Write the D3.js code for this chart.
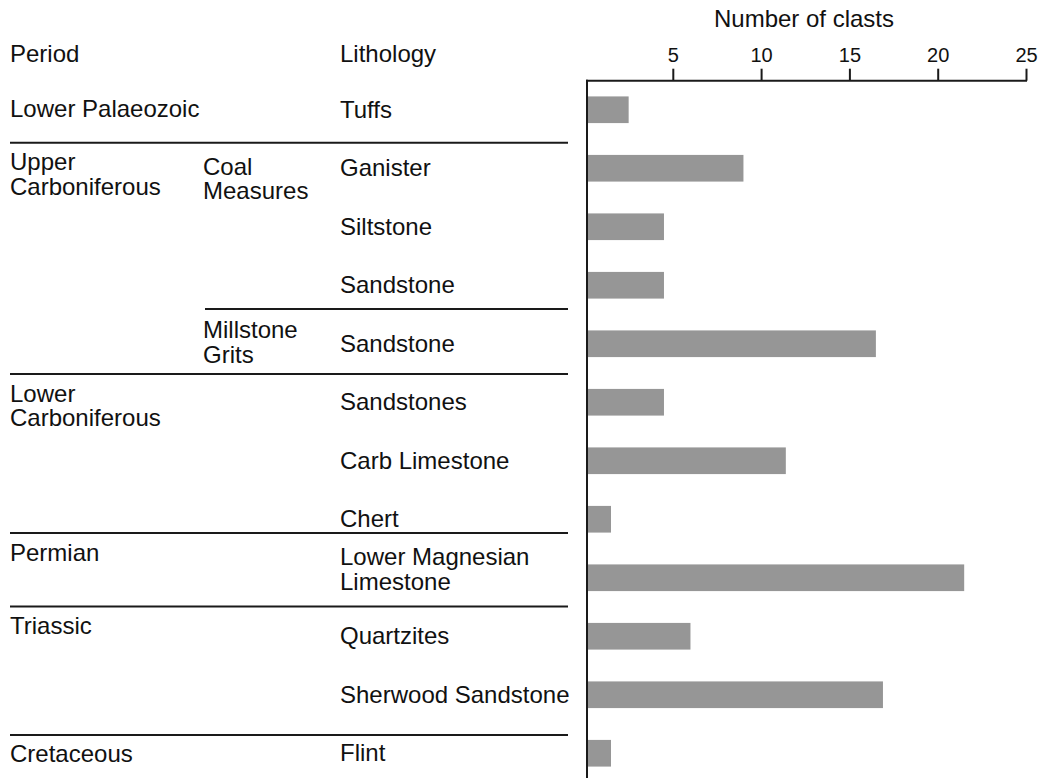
<!DOCTYPE html>
<html>
<head>
<meta charset="utf-8">
<script src="https://cdn.jsdelivr.net/npm/d3@7/dist/d3.min.js"></script>
<style>
  html, body { margin: 0; padding: 0; background: #fff; }
  svg text { font-family: "Liberation Sans", Arial, Helvetica, sans-serif; fill: #111; }
</style>
</head>
<body>
<svg id="chart" width="1040" height="778"></svg>
<script>
// ---- data ----
const lithology = ["Tuffs", "Ganister", "Siltstone", "Sandstone", "Sandstone", "Sandstones",
  "Carb Limestone", "Chert", "Lower Magnesian|Limestone", "Quartzites", "Sherwood Sandstone", "Flint"];
const clasts = [2.5, 9, 4.5, 4.5, 16.5, 4.5, 11.4, 1.5, 21.5, 6, 16.9, 1.5];
const periodLabels = ["Lower Palaeozoic", "Upper|Carboniferous", "Lower|Carboniferous", "Permian", "Triassic", "Cretaceous"];
const periodFirstRow = [0, 1, 5, 8, 9, 11];
const subPeriodLabels = ["Coal|Measures", "Millstone|Grits"];
const subPeriodFirstRow = [1, 4];
const xTicks = [5, 10, 15, 20, 25];
const xTitle = "Number of clasts";
const headers = ["Period", "Lithology"];

// ---- layout ----
const W = 1040, H = 778;
const axisY = 80.7, axisX = 587;
const colPeriod = 10, colSub = 203, colLith = 340;
const lineEnd = 568;
const fs = 24, lh = 24.5;
// separator offsets (px) from the first row centre of each group
const periodSepOffset = [null, -25.6, -28.2, -44.7, -29.8, -18.3];
const subSepOffset = [null, -34.8];

const svg = d3.select("#chart");
const rows = d3.range(lithology.length);

const x = d3.scaleLinear().domain([0, 25]).range([584.5, 1026]);
const y = d3.scaleBand().domain(rows).range([80.5, 782.5]).paddingInner(0.544).paddingOuter(0.272);
const cy = i => y(i) + y.bandwidth() / 2;

// bars (start at the vertical axis line)
const barStart = axisX - 1;
svg.append("g").selectAll("rect").data(rows).join("rect")
  .attr("x", barStart)
  .attr("y", i => y(i))
  .attr("width", i => x(clasts[i]) - barStart)
  .attr("height", y.bandwidth())
  .attr("fill", "#969696");

// axis
const axis = d3.axisTop(x).tickValues(xTicks).tickSize(12).tickSizeOuter(0).tickPadding(7)
  .tickFormat(d3.format("d"));
const ag = svg.append("g").attr("transform", `translate(0,${axisY})`).call(axis);
ag.select(".domain").remove();
ag.selectAll(".tick line").attr("stroke", "#1a1a1a").attr("stroke-width", 2);
ag.selectAll(".tick text").attr("font-size", 20).attr("fill", "#111")
  .attr("font-family", "'Liberation Sans', Arial, Helvetica, sans-serif");

svg.append("line").attr("x1", axisX - 1).attr("x2", x(25) + 1)
  .attr("y1", axisY).attr("y2", axisY).attr("stroke", "#1a1a1a").attr("stroke-width", 2);
svg.append("line").attr("x1", axisX).attr("x2", axisX)
  .attr("y1", axisY - 1).attr("y2", H).attr("stroke", "#1a1a1a").attr("stroke-width", 2);

svg.append("text").attr("x", 804).attr("y", 27).attr("text-anchor", "middle")
  .attr("font-size", fs).text(xTitle);

// headers
svg.append("text").attr("x", colPeriod).attr("y", 61.7).attr("font-size", fs).text(headers[0]);
svg.append("text").attr("x", colLith).attr("y", 61.7).attr("font-size", fs).text(headers[1]);

function multi(g, xx, yy, label) {
  const t = g.append("text").attr("x", xx).attr("y", yy).attr("font-size", fs);
  label.split("|").forEach((s, k) => {
    t.append("tspan").attr("x", xx).attr("y", yy + k * lh).text(s);
  });
}

const tg = svg.append("g");
// lithology labels
rows.forEach(i => {
  const parts = lithology[i].split("|");
  const base = parts.length > 1 ? cy(i) - 12.5 : cy(i) + 8;
  multi(tg, colLith, base, lithology[i]);
});

// period separators and labels
periodLabels.forEach((p, k) => {
  const r = periodFirstRow[k];
  let base;
  if (periodSepOffset[k] === null) {
    base = cy(r) + 7.5;
  } else {
    const ly = cy(r) + periodSepOffset[k];
    svg.append("line").attr("x1", colPeriod).attr("x2", lineEnd).attr("y1", ly).attr("y2", ly)
      .attr("stroke", "#1a1a1a").attr("stroke-width", 2);
    base = ly + 27.5;
  }
  multi(tg, colPeriod, base, p);
});

// sub-period separators and labels
subPeriodLabels.forEach((p, k) => {
  const r = subPeriodFirstRow[k];
  let base;
  if (subSepOffset[k] === null) {
    base = cy(r) + 6.7;
  } else {
    const ly = cy(r) + subSepOffset[k];
    svg.append("line").attr("x1", colSub + 2).attr("x2", lineEnd).attr("y1", ly).attr("y2", ly)
      .attr("stroke", "#1a1a1a").attr("stroke-width", 2);
    base = ly + 29.3;
  }
  multi(tg, colSub, base, p);
});
</script>
</body>
</html>
